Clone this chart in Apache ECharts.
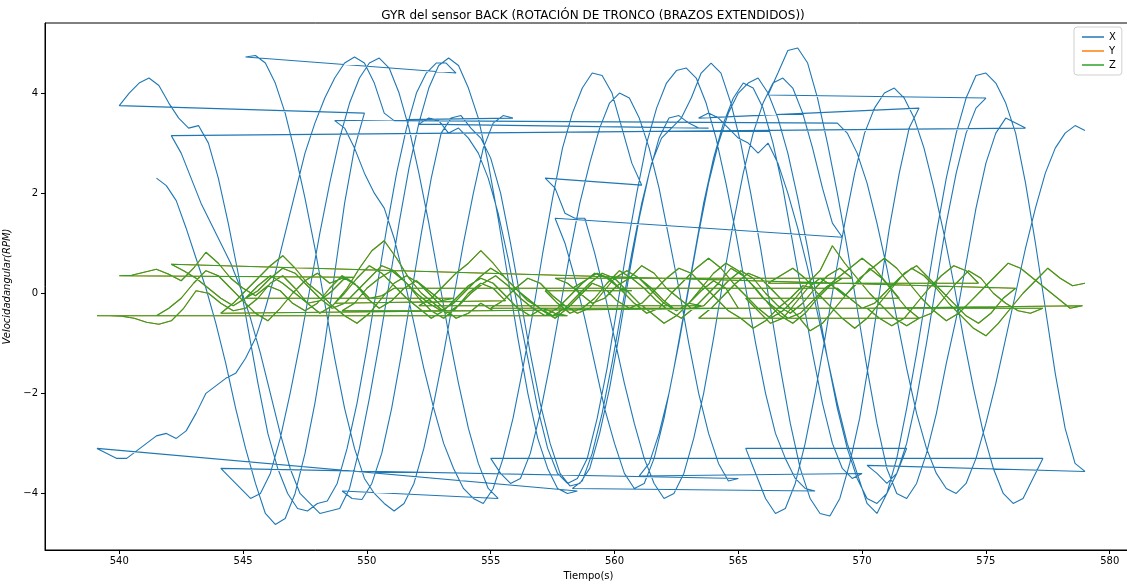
<!DOCTYPE html>
<html>
<head>
<meta charset="utf-8">
<script src="https://cdn.jsdelivr.net/npm/echarts@6/dist/echarts.min.js"></script>
<style>
html,body{margin:0;padding:0;background:#fff;}
#chart{width:1127px;height:585px;}
</style>
</head>
<body>
<div id="chart"></div>
<script>
// ---- data ----
const titleText = 'GYR del sensor BACK (ROTACIÓN DE TRONCO (BRAZOS EXTENDIDOS))';
const xTicks = [540, 545, 550, 555, 560, 565, 570, 575, 580];
const yTicks = [-4, -2, 0, 2, 4];
const seriesNames = ['X', 'Y', 'Z'];

// start time (s) of each recorded pass, in recording order
const passStart = [541.5, 540.0, 545.1, 548.7, 557.2, 557.6, 561.0, 565.3, 555.0, 544.1,
                   549.0, 552.1, 558.3, 563.4, 570.2, 566.2, 542.1, 539.1, 569.0];
const xStep = 0.4;   // sampling step of X samples (s)
const zStep = 0.5;   // sampling step of Y/Z samples (s)

const xValues = [
  [2.3,2.15,1.85,1.3,0.7,0.1,-0.6,-1.4,-2.3,-3.1,-3.8,-4.4,-4.62,-4.5,-4.0,-3.2,-2.2,-1.0,0.4,1.8,2.9,3.6],
  [3.75,4.0,4.2,4.3,4.15,3.8,3.5,3.3,3.35,3.0,2.3,1.4,0.4,-0.7,-1.8,-2.8,-3.5,-4.0,-4.3,-4.35,-4.2,-4.15,-3.8,-3.1,-2.2,-1.1,0.1,1.3,2.4,3.3,4.0,4.4,4.6,4.6,4.4],
  [4.72,4.75,4.6,4.2,3.6,2.8,1.9,0.9,-0.2,-1.3,-2.3,-3.1,-3.7,-4.0,-4.2,-4.35,-4.2,-3.8,-3.1,-2.2,-1.2,-0.1,1.0,2.0,2.9,3.4,3.55,3.5],
  [3.45,3.3,2.9,2.4,2.0,1.7,1.1,0.3,-0.6,-1.5,-2.3,-3.0,-3.5,-3.9,-4.1,-4.2,-3.9,-3.3,-2.5,-1.5,-0.4,0.8,1.9,2.9,3.6,4.1,4.4,4.35,4.0,3.3,2.6,2.16],
  [2.3,2.1,1.6,1.5,1.5,0.8,0.0,-0.9,-1.8,-2.6,-3.3,-3.8,-4.1,-4.0,-3.6,-2.9,-2.0,-0.9,0.3,1.4,2.4,3.2,3.8,4.2,4.3,4.1,3.6,2.9,2.1,1.4,1.12],
  [1.5,1.0,0.3,-0.5,-1.4,-2.3,-3.0,-3.6,-3.9,-3.8,-3.3,-2.5,-1.5,-0.4,0.7,1.8,2.7,3.4,3.9,4.2,4.1,3.7,3.0,2.1,1.0,-0.1,-1.2,-2.2,-3.0,-3.5,-3.7,-3.6],
  [-3.65,-3.4,-2.8,-2.0,-1.0,0.1,1.2,2.2,3.0,3.6,4.0,4.2,4.3,4.0,3.5,2.8,1.9,0.9,-0.2,-1.3,-2.3,-3.1,-3.7,-4.1,-4.2,-4.0,-3.6,-3.1],
  [-3.1,-3.6,-4.1,-4.4,-4.3,-3.8,-3.0,-2.0,-0.9,0.3,1.4,2.4,3.2,3.7,4.0,4.1,3.9,3.5,2.9,2.1,1.2,0.2,-0.9,-1.9,-2.8,-3.5,-4.0,-4.2,-4.1,-3.7,-3.3],
  [-3.3,-3.6,-3.8,-3.7,-3.2,-2.4,-1.4,-0.3,0.8,1.8,2.6,3.3,3.8,4.0,3.9,3.5,2.9,2.1,1.1,0.1,-1.0,-2.0,-2.8,-3.4,-3.75,-3.7],
  [-3.5,-3.7,-3.9,-4.1,-4.0,-3.6,-2.9,-2.0,-1.0,0.1,1.2,2.2,3.1,3.8,4.3,4.6,4.7,4.5,4.0,3.3,2.4,1.4,0.3,-0.8,-1.8,-2.7,-3.4,-3.9,-4.1],
  [-3.95,-4.1,-4.12,-3.8,-3.2,-2.3,-1.2,0.0,1.2,2.3,3.2,3.5,3.55,3.3,3.1,2.7,2.0,1.0,-0.1,-1.2,-2.2,-3.0,-3.6,-3.85,-3.8,-3.5,-2.8,-1.9,-0.8,0.4,1.5,2.4,3.1,3.5,3.55,3.4,3.3,3.3],
  [3.38,3.5,3.45,3.2,3.3,3.1,2.8,2.3,1.6,0.7,-0.3,-1.3,-2.3,-3.1,-3.6,-3.8,-3.7,-3.3,-2.5,-1.5,-0.3,0.9,2.0,3.0,3.7,4.2,4.45,4.5,4.3,3.8,3.1,2.2,1.2,0.1,-1.0,-2.0,-2.8,-3.3,-3.7,-3.9,-3.95],
  [-3.9,-3.75,-3.2,-2.4,-1.4,-0.3,0.8,1.8,2.6,3.1,3.3,3.5,3.9,4.4,4.6,4.4,3.8,3.0,2.0,0.9,-0.3,-1.5,-2.6,-3.5,-4.1,-4.4,-4.45,-4.1,-3.4,-2.5,-1.3,0.0,1.3,2.4,3.3,3.7],
  [3.5,3.6,3.5,3.3,3.1,3.0,2.8,3.0,2.6,2.0,1.3,0.5,-0.4,-1.3,-2.2,-3.0,-3.6,-4.2,-4.4,-4.0,-3.3,-2.3,-1.2,0.0,1.2,2.3,3.2,3.9,4.35,4.4,4.2,3.8,3.2,2.2,1.0,-0.3,-1.6,-2.7,-3.4,-3.56],
  [-3.44,-3.6,-3.8,-3.6,-3.0,-2.1,-1.0,0.2,1.4,2.4,3.2,3.7,3.9],
  [3.96,4.4,4.85,4.9,4.6,3.9,3.0,2.0,0.9,-0.3,-1.5,-2.6,-3.5,-4.0,-4.1,-3.8,-3.2,-2.4,-1.4,-0.5,0.6,1.7,2.6,3.2,3.5,3.4,3.3],
  [3.15,2.8,2.3,1.8,1.4,1.0,0.6,0.1,-0.5,-1.2,-2.0,-2.8,-3.5,-4.0,-4.2,-4.4,-4.35,-4.3,-3.9,-3.1,-2.1,-1.0,0.2,1.4,2.5,3.4,4.1,4.55,4.7,4.55,4.1,3.5,2.6,1.5,0.3,-0.9,-2.0,-2.9,-3.5,-3.9,-4.0,-3.95],
  [-3.1,-3.2,-3.3,-3.3,-3.15,-3.0,-2.85,-2.8,-2.9,-2.75,-2.4,-2.0,-1.85,-1.7,-1.6,-1.3,-0.9,-0.3,0.4,1.2,2.0,2.8,3.4,3.9,4.3,4.6,4.72,4.6,4.2,3.6,3.45],
  [3.4,3.2,2.8,2.2,1.4,0.5,-0.5,-1.5,-2.4,-3.1,-3.6,-3.9,-4.0,-3.8,-3.3,-2.6,-1.8,-0.9,0.0,0.9,1.7,2.4,2.9,3.2,3.35,3.25]
];

const zValues = [
  [-0.45,-0.3,-0.1,0.2,0.45,0.35,0.1,-0.15,-0.4,-0.55,-0.3,0.0,0.25,0.4,0.2,0.3,0.32],
  [0.35,0.36,0.42,0.48,0.38,0.25,0.5,0.82,0.6,0.3,0.1,-0.05,0.15,0.05,-0.2,-0.35,-0.2,0.1,0.35,0.2,-0.1,-0.3,-0.15,0.1,0.25,0.05,-0.15,-0.1],
  [-0.1,0.05,0.3,0.5,0.4,0.15,-0.1,-0.3,-0.2,0.05,0.3,0.55,0.45,0.2,-0.1,-0.35,-0.5,-0.3,0.0,0.2,0.1,-0.15],
  [-0.2,0.1,0.5,0.85,1.05,0.7,0.3,0.0,-0.2,-0.4,-0.25,0.0,0.2,0.35,0.15,-0.1,-0.3,-0.45,-0.3,-0.05,0.2,0.4,0.3,0.1,0.05],
  [0.05,-0.2,-0.4,-0.3,-0.1,0.2,0.45,0.3,0.1,-0.15,-0.35,-0.5,-0.3,-0.05,0.2,0.5,0.35,0.1,-0.2,-0.45,-0.6,-0.4,-0.1,0.15,0.3],
  [0.3,0.2,0.0,-0.2,-0.1,0.15,0.3,0.55,0.4,0.1,-0.1,-0.3,-0.25,0.0,0.25,0.45,0.3,0.0,-0.25,-0.4,-0.2,0.1,0.35,0.5,0.3],
  [0.3,0.1,-0.15,-0.35,-0.2,0.1,0.4,0.6,0.45,0.2,-0.1,-0.3,-0.5,-0.4,-0.15,0.1,0.3,0.5,0.7,0.5,0.2,-0.1],
  [-0.1,-0.35,-0.6,-0.5,-0.2,0.1,0.3,0.15,-0.05,0.2,0.5,0.3,0.0,-0.3,-0.5,-0.4,-0.1,0.2,0.45,0.3,0.0,-0.2,-0.35,-0.4,-0.3],
  [-0.3,-0.15,0.1,0.3,0.2,-0.05,-0.25,-0.4,-0.3,0.0,0.3,0.45,0.3,0.05,-0.2,-0.35,-0.2,0.05,0.25,0.1,-0.3],
  [-0.4,-0.2,0.05,0.3,0.55,0.75,0.5,0.2,0.0,-0.25,-0.45,-0.6,-0.4,-0.1,0.2,0.35,0.2,-0.05,-0.3,-0.5,-0.4,-0.2,-0.35],
  [-0.35,-0.2,0.1,0.3,0.45,0.25,0.0,-0.2,-0.35,-0.2,0.05,0.3,0.5,0.35,0.1,-0.15,-0.3,-0.45,-0.3,-0.05,0.2,0.4,0.3,0.05,-0.2,-0.4,-0.6,-0.45,-0.2,-0.25],
  [-0.25,-0.1,0.15,0.4,0.6,0.85,0.6,0.3,0.05,-0.15,-0.35,-0.5,-0.3,-0.05,0.2,0.1,-0.15,-0.3,-0.2,0.05,0.3,0.5,0.4,0.15,-0.1,-0.35,-0.5,-0.7,-0.55,-0.3,-0.1,0.15,0.1],
  [0.1,0.25,0.4,0.3,0.05,-0.2,-0.4,-0.3,0.0,0.25,0.5,0.7,0.5,0.2,-0.05,-0.3,-0.5,-0.35,-0.1,0.2,0.45,0.95,0.6,0.3,0.0,-0.25,-0.5,-0.65,-0.5],
  [-0.5,-0.3,-0.05,0.2,0.4,0.3,0.05,-0.2,-0.45,-0.75,-0.6,-0.3,0.0,0.3,0.5,0.7,0.5,0.2,-0.1,-0.35,-0.55,-0.4,-0.15,0.1,0.35,0.6,0.5,0.3,0.1,-0.1,-0.3,-0.25],
  [-0.3,-0.5,-0.65,-0.5,-0.2,0.1,0.35,0.55,0.45,0.2],
  [0.2,0.35,0.5,0.3,0.0,-0.25,-0.5,-0.7,-0.5,-0.2,0.1,0.4,0.55,0.3,0.05,-0.2,-0.45,-0.6,-0.4,-0.1,0.1],
  [0.58,0.45,0.3,0.1,-0.1,-0.25,-0.1,0.15,0.35,0.2,0.0,-0.2,-0.4,-0.25,0.0,0.3,0.55,0.4,0.15,-0.1,-0.3,-0.5,-0.35,-0.1,0.15,0.3,0.2,-0.05,-0.3,-0.45,-0.3,-0.4,-0.45],
  [-0.45,-0.45,-0.46,-0.5,-0.58,-0.62,-0.55,-0.3,0.05,0.0,-0.2,-0.35,-0.3,-0.1,0.2,0.35,0.1,-0.2,-0.15,0.05,0.3,0.15,-0.1,-0.05,0.1],
  [0.1,-0.1,-0.3,-0.2,0.05,0.3,0.5,0.35,0.1,-0.2,-0.45,-0.7,-0.85,-0.6,-0.3,0.0,0.25,0.5,0.3,0.15,0.2]
];

// ---- build series data from the passes ----
function buildPoints(values, step) {
  const pts = [];
  values.forEach((arr, i) => {
    arr.forEach((v, j) => {
      pts.push([Math.round((passStart[i] + j * step) * 100) / 100, v]);
    });
  });
  return pts;
}
const xData = buildPoints(xValues, xStep);
const zData = buildPoints(zValues, zStep);
const yData = zData; // Y trace lies underneath Z

const font = 'DejaVu Sans';
const chart = echarts.init(document.getElementById('chart'), null, {renderer: 'canvas'});
const minus = v => String(v).replace('-', '\u2212');

chart.setOption({
  animation: false,
  backgroundColor: '#fff',
  textStyle: {fontFamily: font},
  title: {
    text: titleText,
    left: 588, top: 5, textAlign: 'center',
    textStyle: {fontFamily: font, fontSize: 12, fontWeight: 'normal', color: '#000'}
  },
  legend: {
    data: seriesNames,
    orient: 'vertical',
    left: 1074, top: 27,
    icon: 'rect',
    itemWidth: 22, itemHeight: 1.5, itemGap: 2,
    padding: [4, 6, 4, 8],
    borderColor: '#d0d0d0', borderWidth: 1, borderRadius: 3,
    backgroundColor: 'rgba(255,255,255,0.8)',
    textStyle: {fontFamily: font, fontSize: 10, color: '#000', lineHeight: 12}
  },
  grid: {left: 45, top: 23, width: 1087, height: 527, show: true, borderColor: '#000', borderWidth: 1,
         containLabel: false, outerBoundsMode: 'none'},
  xAxis: {
    type: 'value', min: 537.0, max: 580.9,
    name: 'Tiempo(s)', nameLocation: 'middle', nameGap: 21,
    nameTextStyle: {fontFamily: font, fontSize: 10, color: '#000'},
    axisLine: {show: true, onZero: false, lineStyle: {color: '#000', width: 1}},
    axisTick: {show: true, length: 4, lineStyle: {color: '#000'}, customValues: xTicks},
    axisLabel: {fontFamily: font, fontSize: 10, color: '#000', margin: 6, customValues: xTicks, formatter: v => minus(v)},
    splitLine: {show: false}
  },
  yAxis: {
    type: 'value', min: -5.13, max: 5.40,
    name: 'Velocidadangular(RPM)', nameLocation: 'middle', nameGap: 24,
    nameTextStyle: {fontFamily: font, fontSize: 10, color: '#000', fontStyle: 'italic'},
    axisLine: {show: true, onZero: false, lineStyle: {color: '#000', width: 1}},
    axisTick: {show: true, length: 4, lineStyle: {color: '#000'}, customValues: yTicks},
    axisLabel: {fontFamily: font, fontSize: 10, color: '#000', margin: 7, customValues: yTicks, formatter: v => minus(v)},
    splitLine: {show: false}
  },
  series: [
    {name: 'X', type: 'line', data: xData, showSymbol: false, symbol: 'none',
     lineStyle: {color: '#1f77b4', width: 1.1}, itemStyle: {color: '#1f77b4'}},
    {name: 'Y', type: 'line', data: yData, showSymbol: false, symbol: 'none',
     lineStyle: {color: '#ff7f0e', width: 1.1}, itemStyle: {color: '#ff7f0e'}},
    {name: 'Z', type: 'line', data: zData, showSymbol: false, symbol: 'none',
     lineStyle: {color: '#2ca02c', width: 1.1}, itemStyle: {color: '#2ca02c'}}
  ]
});
</script>
</body>
</html>
